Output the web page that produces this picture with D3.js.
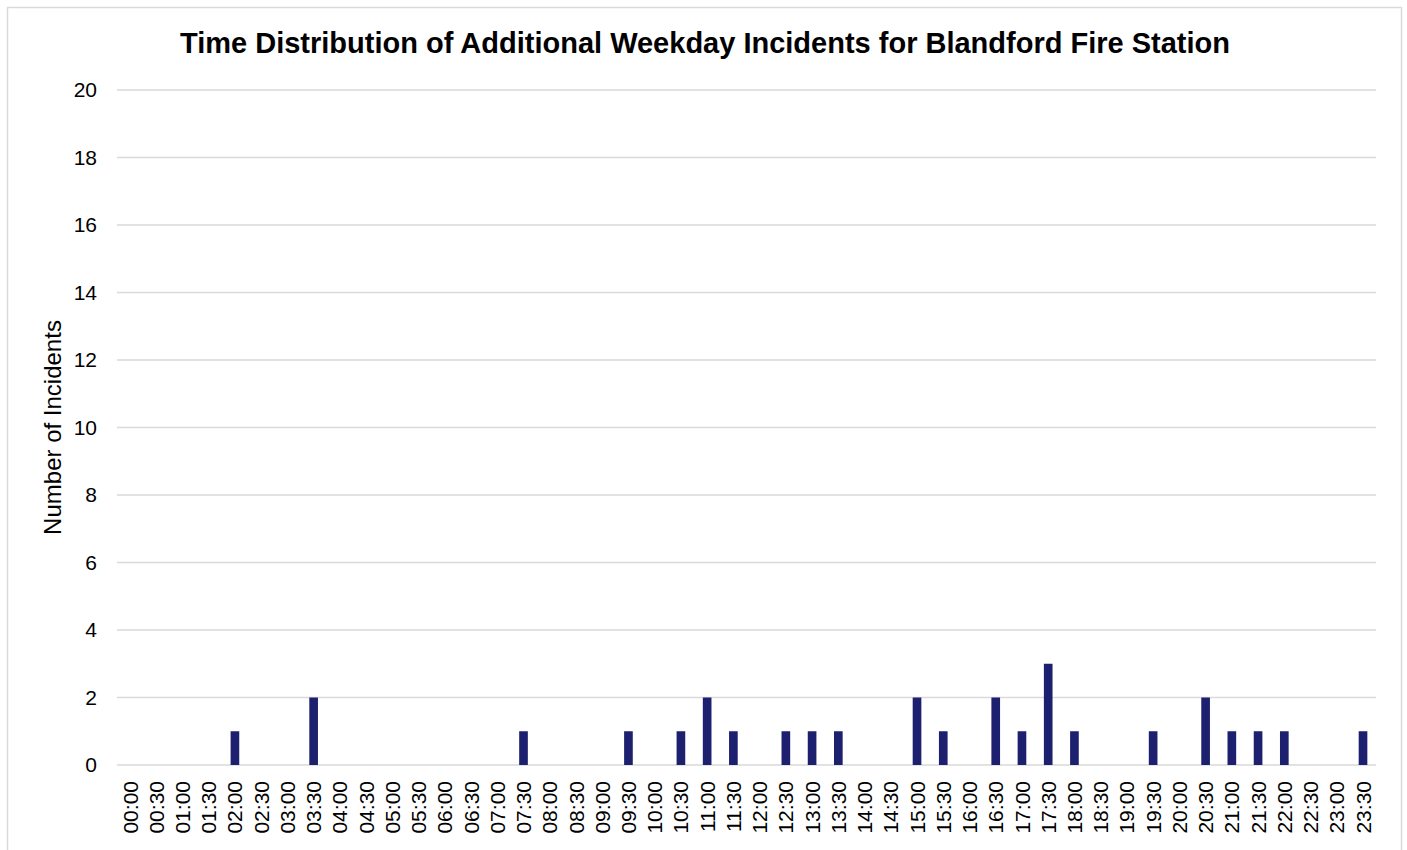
<!DOCTYPE html>
<html>
<head>
<meta charset="utf-8">
<script src="https://cdn.jsdelivr.net/npm/d3@7"></script>
<style>
  body { margin: 0; background: #fff; }
  text { font-family: "Liberation Sans", Arial, sans-serif; }
</style>
</head>
<body>
<svg id="canvas"></svg>
<script>
// half-hour slots 00:00 .. 23:30
const times = ['00:00','00:30','01:00','01:30','02:00','02:30','03:00','03:30','04:00','04:30',
    '05:00','05:30','06:00','06:30','07:00','07:30','08:00','08:30','09:00','09:30',
    '10:00','10:30','11:00','11:30','12:00','12:30','13:00','13:30','14:00','14:30',
    '15:00','15:30','16:00','16:30','17:00','17:30','18:00','18:30','19:00','19:30',
    '20:00','20:30','21:00','21:30','22:00','22:30','23:00','23:30']
const incidents = [0,0,0,0,1,0,0,2,0,0,
    0,0,0,0,0,1,0,0,0,1,
    0,1,2,1,0,1,1,1,0,0,
    2,1,0,2,1,3,1,0,0,1,
    0,2,1,1,1,0,0,1]
const yTicks = [0,2,4,6,8,10,12,14,16,18,20]

const width = 1407
const height = 850
const plotLeft = 117, plotRight = 1376, plotTop = 90, plotBottom = 765

let svg = d3.select('#canvas')
    .attr('width', width)
    .attr('height', height)

// frame
svg.append('path')
    .attr('d', 'M7.5,' + height + ' V7.5 H1401.5 V' + height)
    .attr('fill', 'none')
    .attr('stroke', '#d9d9d9')
    .attr('stroke-width', 1.5)

let xScale = d3.scaleBand()
    .domain(times)
    .range([plotLeft, plotRight])
    .paddingInner(0.67)
    .paddingOuter(0.33)

let yScale = d3.scaleLinear()
    .domain([0, 20])
    .range([plotBottom, plotTop])

// grid lines
svg.append('g')
    .selectAll('line')
    .data(yTicks)
    .enter()
    .append('line')
    .attr('x1', plotLeft)
    .attr('x2', plotRight)
    .attr('y1', (d) => yScale(d))
    .attr('y2', (d) => yScale(d))
    .attr('stroke', '#d9d9d9')
    .attr('stroke-width', 1.5)

// y axis labels
let yAxis = d3.axisLeft(yScale)
    .tickValues(yTicks)
    .tickSize(0)
    .tickPadding(20)
svg.append('g')
    .attr('transform', 'translate(' + plotLeft + ',0)')
    .call(yAxis)
    .call((g) => g.select('.domain').remove())
    .selectAll('text')
    .style('font-size', '21px')
    .attr('fill', '#000')

// x axis labels
let xAxis = d3.axisBottom(xScale)
    .tickSize(0)
svg.append('g')
    .attr('transform', 'translate(0,' + plotBottom + ')')
    .call(xAxis)
    .call((g) => g.select('.domain').remove())
    .selectAll('text')
    .style('font-size', '21px')
    .attr('fill', '#000')
    .attr('transform', 'rotate(-90)')
    .attr('x', -16)
    .attr('y', 0)
    .attr('dy', '0.36em')
    .style('text-anchor', 'end')

// bars
svg.append('g')
    .selectAll('rect')
    .data(times)
    .enter()
    .append('rect')
    .attr('x', (d) => xScale(d))
    .attr('width', xScale.bandwidth())
    .attr('y', (d, i) => yScale(incidents[i]))
    .attr('height', (d, i) => yScale(0) - yScale(incidents[i]))
    .attr('fill', '#1c206e')

// title
svg.append('text')
    .attr('x', 705)
    .attr('y', 53)
    .attr('text-anchor', 'middle')
    .style('font-size', '29px')
    .attr('font-weight', 'bold')
    .text('Time Distribution of Additional Weekday Incidents for Blandford Fire Station')

// y axis title
svg.append('text')
    .attr('transform', 'translate(61,' + ((plotTop + plotBottom) / 2) + ') rotate(-90)')
    .attr('text-anchor', 'middle')
    .style('font-size', '24px')
    .text('Number of Incidents')
</script>
</body>
</html>
